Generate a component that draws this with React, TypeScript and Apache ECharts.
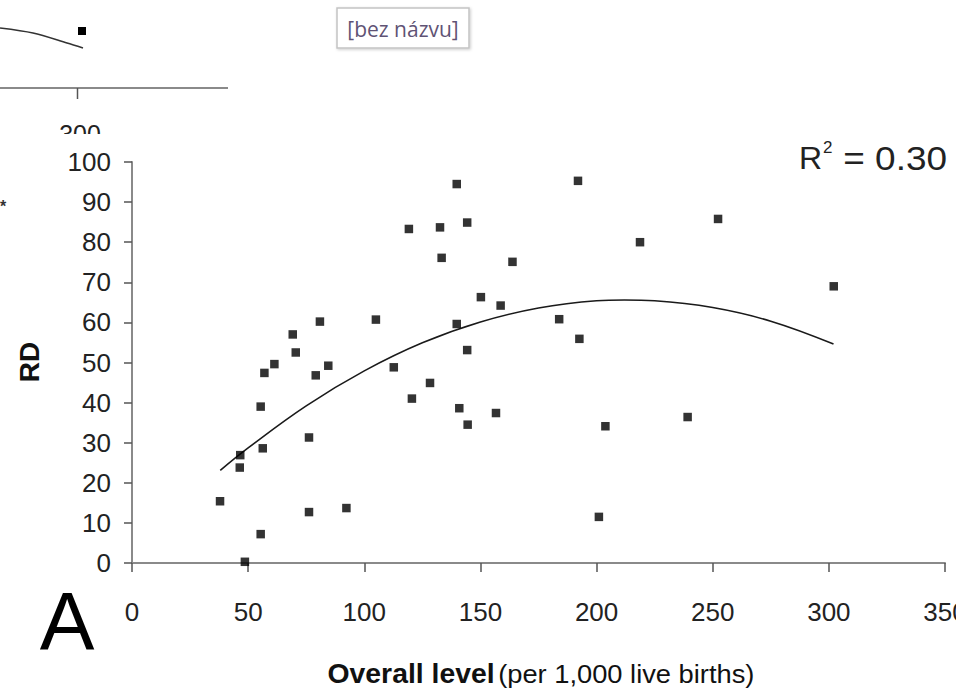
import React, { useEffect, useRef } from "react";
import * as echarts from "echarts";

const overallLevel = [
  37.9, 46.6, 46.4, 48.6, 55.4, 55.4, 56.3, 57.0, 61.3, 69.2, 70.5, 76.2, 76.2, 79.1, 80.9,
  84.5, 92.3, 105.0, 112.7, 119.2, 120.5, 128.3, 132.6, 133.3, 139.8, 139.8, 140.9, 144.3,
  144.3, 144.5, 150.2, 156.7, 158.7, 163.8, 183.9, 192.0, 192.6, 201.0, 203.8, 218.7, 239.2,
  252.3, 302.1,
];
const rdValues = [
  15.4, 26.9, 23.8, 0.3, 7.2, 39.0, 28.6, 47.4, 49.6, 57.0, 52.5, 31.3, 12.7, 46.8, 60.2,
  49.2, 13.7, 60.7, 48.8, 83.3, 41.0, 44.9, 83.7, 76.1, 94.5, 59.6, 38.6, 84.9, 53.1, 34.5,
  66.3, 37.4, 64.2, 75.1, 60.8, 95.3, 55.9, 11.5, 34.1, 80.0, 36.4, 85.8, 69.0,
];
// polynomial trend line
const trendX = [38, 50, 75, 100, 125, 150, 175, 200, 212, 225, 250, 275, 302];
const trendY = [23.1, 28.7, 39.2, 47.9, 54.9, 60.1, 63.6, 65.4, 65.6, 65.4, 63.7, 60.3, 54.6];

const xAxisTitleBold = "Overall level";
const xAxisTitleRest = "(per 1,000 live births)";
const yAxisTitle = "RD";
const r2Value = "= 0.30";
const panelLetter = "A";
const placeholderLabel = "[bez názvu]";
const neighbourTick = "300";

const FONT = '"Liberation Sans", Arial, sans-serif';
const AXIS_GREY = "#8a8a8a";

export default function App() {
  const ref = useRef<HTMLDivElement>(null);

  useEffect(() => {
    if (!ref.current) return;
    document.documentElement.style.overflow = "hidden";
    document.body.style.overflow = "hidden";
    document.body.style.margin = "0";
    const chart = echarts.init(ref.current, null, { renderer: "svg", width: 956, height: 691 });
    const scatterData = overallLevel.map((x, i) => [x, rdValues[i]]);
    const trendData = trendX.map((x, i) => [x, trendY[i]]);

    chart.setOption({
      animation: false,
      backgroundColor: "#ffffff",
      grid: {
        left: 132,
        right: 11,
        top: 162,
        bottom: 128,
        containLabel: false,
        outerBoundsMode: "none",
      },
      xAxis: {
        type: "value",
        min: 0,
        max: 350,
        interval: 50,
        axisLine: { show: true, lineStyle: { color: AXIS_GREY, width: 2 } },
        axisTick: { show: true, length: 9, lineStyle: { color: "#555", width: 1.5 } },
        splitLine: { show: false },
        axisLabel: { fontFamily: FONT, fontSize: 26, color: "#222", margin: 36 },
      },
      yAxis: {
        type: "value",
        min: 0,
        max: 100,
        interval: 10,
        axisLine: { show: true, lineStyle: { color: AXIS_GREY, width: 2 } },
        axisTick: { show: true, length: 8, lineStyle: { color: "#555", width: 1.5 } },
        splitLine: { show: false },
        axisLabel: { fontFamily: FONT, fontSize: 26, color: "#222", margin: 21 },
      },
      series: [
        {
          type: "line",
          data: trendData,
          smooth: 0.4,
          showSymbol: false,
          symbol: "none",
          lineStyle: { color: "#1a1a1a", width: 1.6 },
          z: 2,
        },
        {
          type: "scatter",
          data: scatterData,
          symbol: "rect",
          symbolSize: 8.5,
          itemStyle: { color: "#000000" },
          z: 3,
        },
      ],
      graphic: [
        // fragment of the neighbouring chart (cropped at top-left)
        {
          type: "polyline",
          shape: { points: [[0, 28], [33, 33], [67, 43], [83, 48]], smooth: 0.3 },
          style: { stroke: "#333", lineWidth: 1.6, fill: null },
        },
        { type: "rect", shape: { x: 78, y: 27, width: 8, height: 8 }, style: { fill: "#000" } },
        {
          type: "line",
          shape: { x1: 0, y1: 88, x2: 228, y2: 88 },
          style: { stroke: AXIS_GREY, lineWidth: 2 },
        },
        {
          type: "line",
          shape: { x1: 77.5, y1: 88, x2: 77.5, y2: 99 },
          style: { stroke: "#555", lineWidth: 1.5 },
        },
        {
          type: "text",
          x: 80,
          y: 121,
          style: { text: neighbourTick, font: `25px ${FONT}`, fill: "#222", align: "center", verticalAlign: "top" },
        },
        { type: "rect", shape: { x: 40, y: 134, width: 90, height: 15 }, style: { fill: "#fff" }, z: 10 },
        {
          type: "text",
          x: 0,
          y: 198,
          style: { text: "*", font: `bold 16px ${FONT}`, fill: "#333" },
        },
        // placeholder box
        {
          type: "rect",
          shape: { x: 337, y: 8, width: 132, height: 40 },
          style: {
            fill: "#ffffff",
            stroke: "#c4c4c4",
            lineWidth: 1.5,
            shadowBlur: 3,
            shadowColor: "rgba(0,0,0,0.2)",
            shadowOffsetX: 1,
            shadowOffsetY: 1,
          },
        },
        {
          type: "text",
          x: 403,
          y: 29,
          style: {
            text: placeholderLabel,
            font: `21px "Open Sans", "Noto Sans", sans-serif`,
            fill: "#5f5375",
            align: "center",
            verticalAlign: "middle",
          },
        },
        // R^2 annotation
        {
          type: "text",
          x: 799,
          y: 142,
          style: { text: "R", font: `32px ${FONT}`, fill: "#222", verticalAlign: "top" },
        },
        {
          type: "text",
          x: 823,
          y: 139,
          style: { text: "2", font: `17px ${FONT}`, fill: "#222", verticalAlign: "top" },
        },
        {
          type: "text",
          x: 947,
          y: 142,
          scaleX: 1.12,
          style: { text: r2Value, font: `33px ${FONT}`, fill: "#222", align: "right", verticalAlign: "top" },
        },
        // y axis title
        {
          type: "text",
          x: 29,
          y: 362,
          rotation: Math.PI / 2,
          style: {
            text: yAxisTitle,
            font: `bold 28px ${FONT}`,
            fill: "#111",
            align: "center",
            verticalAlign: "middle",
          },
        },
        // panel letter
        {
          type: "text",
          x: 67,
          y: 620,
          style: {
            text: panelLetter,
            font: `82px ${FONT}`,
            fill: "#000",
            align: "center",
            verticalAlign: "middle",
          },
        },
        // x axis title
        {
          type: "text",
          x: 541,
          y: 674,
          scaleX: 1.05,
          style: {
            text: `{b|${xAxisTitleBold}} {n|${xAxisTitleRest}}`,
            align: "center",
            verticalAlign: "middle",
            rich: {
              b: { font: `bold 27px ${FONT}`, fill: "#111" },
              n: { font: `26px ${FONT}`, fill: "#111" },
            },
          },
        },
      ],
    });

    return () => chart.dispose();
  }, []);

  return (
    <div
      ref={ref}
      style={{ position: "fixed", left: 0, top: 0, width: 956, height: 691, background: "#fff", overflow: "hidden" }}
    />
  );
}
